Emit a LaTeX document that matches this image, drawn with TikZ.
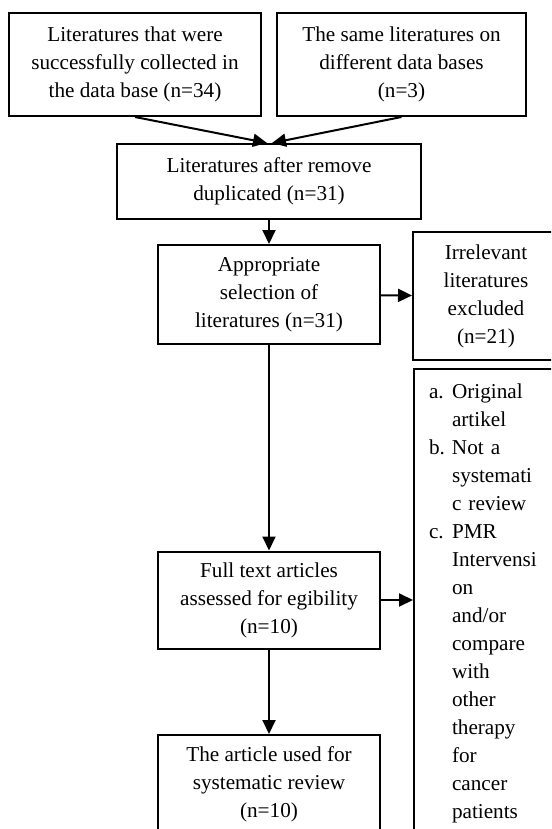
\documentclass[tikz,border=0pt]{standalone}
\usepackage{fontspec}
\setmainfont{Liberation Serif}
\usetikzlibrary{arrows.meta}

\begin{document}
\begin{tikzpicture}[
    x=1pt, y=-1pt,
    font=\fontsize{21.2}{28}\selectfont,
    kotak/.style={draw, line width=2pt, align=center, inner sep=0pt},
    panah/.style={-{Triangle[length=14pt,width=13pt]}, line width=2pt}
  ]
    \useasboundingbox (0,0) rectangle (551,829);
    \clip (0,0) rectangle (551,829);

    \node[kotak, minimum width=252pt, minimum height=103pt] (kumpul) at (135,64.5) {Literatures that were\\successfully collected in\\the data base (n=34)};
    \node[kotak, minimum width=249pt, minimum height=103pt] (sama) at (401.5,64.5) {The same literatures on\\different data bases\\(n=3)};
    \node[kotak, minimum width=304pt, minimum height=75pt] (hapus) at (269,181.5) {Literatures after remove\\duplicated (n=31)};
    \node[kotak, minimum width=222pt, minimum height=99pt] (seleksi) at (269,294.5) {Appropriate\\selection of\\literatures (n=31)};
    \node[kotak, minimum width=222pt, minimum height=97pt] (penuh) at (269,600) {Full text articles\\assessed for egibility\\(n=10)};
    \node[kotak, minimum width=222pt, minimum height=98pt] (pakai) at (269,784) {The article used for\\systematic review\\(n=10)};
    \node[kotak, minimum width=146pt, minimum height=128pt] (tolak) at (486,296) {Irrelevant\\literatures\\excluded\\(n=21)};
    \node[kotak, anchor=north west, align=left, inner xsep=15pt, text width=116pt,
          text height=29pt, text depth=480pt] (kriteria) at (413,368)
      {\begin{tabular}[t]{@{}p{23pt}@{}l@{}}
        a. & Original\\ & artikel\\
        b. & Not a\\ & systemati\\ & c review\\
        c. & PMR\\ & Intervensi\\ & on\\ & and/or\\ & compare\\ & with\\ & other\\ & therapy\\ & for\\ & cancer\\ & patients
      \end{tabular}};

    \draw[panah] (kumpul.south) -- ([xshift=-2pt]hapus.north);
    \draw[panah] (sama.south) -- ([xshift=3pt]hapus.north);
    \draw[panah] (hapus) -- (seleksi);
    \draw[panah] (seleksi) -- (tolak);
    \draw[panah] (seleksi) -- (penuh);
    \draw[panah] (penuh.east) -- (penuh.east -| kriteria.west);
    \draw[panah] (penuh) -- (pakai);
  \end{tikzpicture}
\end{document}
